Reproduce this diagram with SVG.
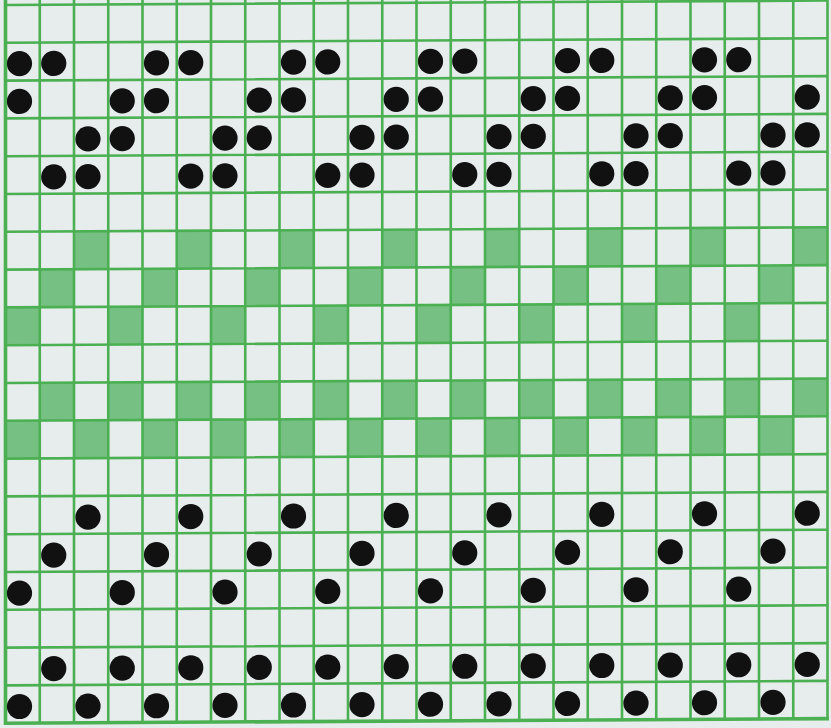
<svg xmlns="http://www.w3.org/2000/svg" width="831" height="728" viewBox="0 0 831 728">
<style>
.bg{fill:#e7eced}
.g{fill:#76c083}
.ln{stroke:#4bb052;stroke-width:2.6;fill:none}
.bd{stroke:#4bb052;stroke-width:3.6;fill:none}
.d{fill:#111}
</style>
<defs>
<rect id="c" width="34.25" height="37.8" class="g"/>
<circle id="o" r="12.6" class="d"/>
</defs>
<rect class="bg" x="0" y="0" width="831" height="728"/>
<g transform="matrix(1,-0.0055,0,1,0,0.03)">
<g id="green">
<use href="#c" x="74" y="231.8"/><use href="#c" x="176.75" y="231.8"/><use href="#c" x="279.5" y="231.8"/><use href="#c" x="382.25" y="231.8"/><use href="#c" x="485" y="231.8"/><use href="#c" x="587.75" y="231.8"/><use href="#c" x="690.5" y="231.8"/><use href="#c" x="793.25" y="231.8"/>
<use href="#c" x="39.75" y="269.6"/><use href="#c" x="142.5" y="269.6"/><use href="#c" x="245.25" y="269.6"/><use href="#c" x="348" y="269.6"/><use href="#c" x="450.75" y="269.6"/><use href="#c" x="553.5" y="269.6"/><use href="#c" x="656.25" y="269.6"/><use href="#c" x="759" y="269.6"/>
<use href="#c" x="5.5" y="307.4"/><use href="#c" x="108.25" y="307.4"/><use href="#c" x="211" y="307.4"/><use href="#c" x="313.75" y="307.4"/><use href="#c" x="416.5" y="307.4"/><use href="#c" x="519.25" y="307.4"/><use href="#c" x="622" y="307.4"/><use href="#c" x="724.75" y="307.4"/>
<use href="#c" x="39.75" y="383"/><use href="#c" x="108.25" y="383"/><use href="#c" x="176.75" y="383"/><use href="#c" x="245.25" y="383"/><use href="#c" x="313.75" y="383"/><use href="#c" x="382.25" y="383"/><use href="#c" x="450.75" y="383"/><use href="#c" x="519.25" y="383"/><use href="#c" x="587.75" y="383"/><use href="#c" x="656.25" y="383"/><use href="#c" x="724.75" y="383"/><use href="#c" x="793.25" y="383"/>
<use href="#c" x="5.5" y="420.8"/><use href="#c" x="74" y="420.8"/><use href="#c" x="142.5" y="420.8"/><use href="#c" x="211" y="420.8"/><use href="#c" x="279.5" y="420.8"/><use href="#c" x="348" y="420.8"/><use href="#c" x="416.5" y="420.8"/><use href="#c" x="485" y="420.8"/><use href="#c" x="553.5" y="420.8"/><use href="#c" x="622" y="420.8"/><use href="#c" x="690.5" y="420.8"/><use href="#c" x="759" y="420.8"/>
</g>
<g id="grid">
<path class="ln" d="M39.75 -6V723.2M74 -6V723.2M108.25 -6V723.2M142.5 -6V723.2M176.75 -6V723.2M211 -6V723.2M245.25 -6V723.2M279.5 -6V723.2M313.75 -6V723.2M348 -6V723.2M382.25 -6V723.2M416.5 -6V723.2M450.75 -6V723.2M485 -6V723.2M519.25 -6V723.2M553.5 -6V723.2M587.75 -6V723.2M622 -6V723.2M656.25 -6V723.2M690.5 -6V723.2M724.75 -6V723.2M759 -6V723.2M793.25 -6V723.2M827.5 -6V723.2"/>
<path class="ln" d="M5.5 5H827.5M5.5 42.8H827.5M5.5 80.6H827.5M5.5 118.4H827.5M5.5 156.2H827.5M5.5 194H827.5M5.5 231.8H827.5M5.5 269.6H827.5M5.5 307.4H827.5M5.5 345.2H827.5M5.5 383H827.5M5.5 420.8H827.5M5.5 458.6H827.5M5.5 496.4H827.5M5.5 534.2H827.5M5.5 572H827.5M5.5 609.8H827.5M5.5 647.6H827.5M5.5 685.4H827.5"/>
<path class="bd" d="M5.5 -2V723.2H829"/>
</g>
<g id="dots">
<use href="#o" x="19.5" y="63.7"/><use href="#o" x="53.75" y="63.7"/><use href="#o" x="156.5" y="63.7"/><use href="#o" x="190.75" y="63.7"/><use href="#o" x="293.5" y="63.7"/><use href="#o" x="327.75" y="63.7"/><use href="#o" x="430.5" y="63.7"/><use href="#o" x="464.75" y="63.7"/><use href="#o" x="567.5" y="63.7"/><use href="#o" x="601.75" y="63.7"/><use href="#o" x="704.5" y="63.7"/><use href="#o" x="738.75" y="63.7"/>
<use href="#o" x="19.5" y="101.5"/><use href="#o" x="122.25" y="101.5"/><use href="#o" x="156.5" y="101.5"/><use href="#o" x="259.25" y="101.5"/><use href="#o" x="293.5" y="101.5"/><use href="#o" x="396.25" y="101.5"/><use href="#o" x="430.5" y="101.5"/><use href="#o" x="533.25" y="101.5"/><use href="#o" x="567.5" y="101.5"/><use href="#o" x="670.25" y="101.5"/><use href="#o" x="704.5" y="101.5"/><use href="#o" x="807.25" y="101.5"/>
<use href="#o" x="88" y="139.3"/><use href="#o" x="122.25" y="139.3"/><use href="#o" x="225" y="139.3"/><use href="#o" x="259.25" y="139.3"/><use href="#o" x="362" y="139.3"/><use href="#o" x="396.25" y="139.3"/><use href="#o" x="499" y="139.3"/><use href="#o" x="533.25" y="139.3"/><use href="#o" x="636" y="139.3"/><use href="#o" x="670.25" y="139.3"/><use href="#o" x="773" y="139.3"/><use href="#o" x="807.25" y="139.3"/>
<use href="#o" x="53.75" y="177.1"/><use href="#o" x="88" y="177.1"/><use href="#o" x="190.75" y="177.1"/><use href="#o" x="225" y="177.1"/><use href="#o" x="327.75" y="177.1"/><use href="#o" x="362" y="177.1"/><use href="#o" x="464.75" y="177.1"/><use href="#o" x="499" y="177.1"/><use href="#o" x="601.75" y="177.1"/><use href="#o" x="636" y="177.1"/><use href="#o" x="738.75" y="177.1"/><use href="#o" x="773" y="177.1"/>
<use href="#o" x="88" y="517.6"/><use href="#o" x="190.75" y="517.6"/><use href="#o" x="293.5" y="517.6"/><use href="#o" x="396.25" y="517.6"/><use href="#o" x="499" y="517.6"/><use href="#o" x="601.75" y="517.6"/><use href="#o" x="704.5" y="517.6"/><use href="#o" x="807.25" y="517.6"/>
<use href="#o" x="53.75" y="555.4"/><use href="#o" x="156.5" y="555.4"/><use href="#o" x="259.25" y="555.4"/><use href="#o" x="362" y="555.4"/><use href="#o" x="464.75" y="555.4"/><use href="#o" x="567.5" y="555.4"/><use href="#o" x="670.25" y="555.4"/><use href="#o" x="773" y="555.4"/>
<use href="#o" x="19.5" y="593.2"/><use href="#o" x="122.25" y="593.2"/><use href="#o" x="225" y="593.2"/><use href="#o" x="327.75" y="593.2"/><use href="#o" x="430.5" y="593.2"/><use href="#o" x="533.25" y="593.2"/><use href="#o" x="636" y="593.2"/><use href="#o" x="738.75" y="593.2"/>
<use href="#o" x="53.75" y="668.8"/><use href="#o" x="122.25" y="668.8"/><use href="#o" x="190.75" y="668.8"/><use href="#o" x="259.25" y="668.8"/><use href="#o" x="327.75" y="668.8"/><use href="#o" x="396.25" y="668.8"/><use href="#o" x="464.75" y="668.8"/><use href="#o" x="533.25" y="668.8"/><use href="#o" x="601.75" y="668.8"/><use href="#o" x="670.25" y="668.8"/><use href="#o" x="738.75" y="668.8"/><use href="#o" x="807.25" y="668.8"/>
<use href="#o" x="19.5" y="706.6"/><use href="#o" x="88" y="706.6"/><use href="#o" x="156.5" y="706.6"/><use href="#o" x="225" y="706.6"/><use href="#o" x="293.5" y="706.6"/><use href="#o" x="362" y="706.6"/><use href="#o" x="430.5" y="706.6"/><use href="#o" x="499" y="706.6"/><use href="#o" x="567.5" y="706.6"/><use href="#o" x="636" y="706.6"/><use href="#o" x="704.5" y="706.6"/><use href="#o" x="773" y="706.6"/>
</g>
</g>
</svg>
